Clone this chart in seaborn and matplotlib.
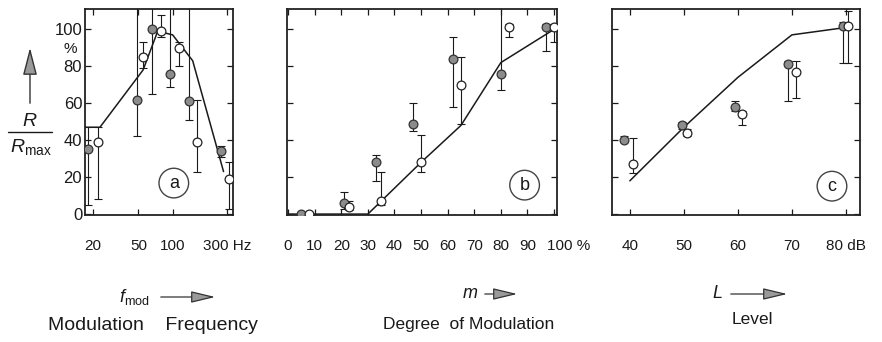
import matplotlib
matplotlib.use('Agg')
import matplotlib.pyplot as plt
import seaborn as sns
from matplotlib.patches import FancyArrowPatch
from matplotlib.lines import Line2D
from matplotlib.transforms import ScaledTranslation

# panel a: modulation frequency (Hz)
fa_line = [17, 23, 55, 74, 100, 150, 280]
ra_line = [47, 47, 78, 99, 97, 83, 23]
fa_fill = [18, 49, 66, 94, 138, 266]
ra_fill = [35, 62, 100, 76, 61, 34]
ra_fill_lo = [5, 42, 65, 69, 51, 31]
ra_fill_hi = [47, 115, 115, 115, 115, 37]
fa_open = [22, 55, 79, 113, 163, 313]
ra_open = [39, 85, 99, 90, 39, 19]
ra_open_lo = [8, 79, 96, 80, 23, 3]
ra_open_hi = [47, 93, 108, 93, 62, 28]
fa_ticks = [20, 50, 100, 300]
fa_labels = ['20', '50', '100', '300 Hz']

# panel b: degree of modulation (%)
mb_line = [0, 30, 50, 65, 80, 100]
rb_line = [0, 0, 28, 48, 82, 100]
mb_fill = [5, 21, 33, 47, 62, 80, 97]
rb_fill = [0, 6, 28, 49, 84, 76, 101]
rb_fill_lo = [0, 3, 18, 45, 58, 67, 88]
rb_fill_hi = [0, 12, 32, 60, 96, 115, 103]
mb_open = [8, 23, 35, 50, 65, 83, 100]
rb_open = [0, 4, 7, 28, 70, 101, 101]
rb_open_lo = [0, 2, 5, 23, 49, 96, 93]
rb_open_hi = [0, 7, 23, 43, 85, 103, 103]
mb_ticks = [0, 10, 20, 30, 40, 50, 60, 70, 80, 90, 100]
mb_labels = ['0', '10', '20', '30', '40', '50', '60', '70', '80', '90', '100 %']

# panel c: level (dB)
lc_line = [40, 50, 60, 70, 80]
rc_line = [18, 47, 74, 97, 101]
lc_fill = [39, 49.6, 59.5, 69.3, 79.4]
rc_fill = [40, 48, 58, 81, 102]
rc_fill_lo = [39, 46, 56, 61, 82]
rc_fill_hi = [42, 50, 61, 83, 104]
lc_open = [40.6, 50.5, 60.7, 70.8, 80.3]
rc_open = [27, 44, 54, 77, 102]
rc_open_lo = [22, 42, 48, 63, 82]
rc_open_hi = [41, 46, 56, 83, 110]
lc_ticks = [40, 50, 60, 70, 80]
lc_labels = ['40', '50', '60', '70', '80 dB']

y_ticks = [0, 20, 40, 60, 80, 100]

sns.set_style('ticks')
plt.rcParams['font.family'] = ['Liberation Sans', 'DejaVu Sans']
plt.rcParams['mathtext.fontset'] = 'custom'
plt.rcParams['mathtext.rm'] = 'Liberation Sans'
plt.rcParams['mathtext.it'] = 'Liberation Sans:italic'
ink = '#1a1a1a'

W, H = 882, 342
fig = plt.figure(figsize=(W / 100, H / 100), dpi=100)


def px(x, y):
    return (x / W, 1 - y / H)


def make_ax(left, right):
    return fig.add_axes([left / W, 1 - 215 / H, (right - left) / W, 206 / H])


def draw(ax, xl, yl, xf, yf, lof, hif, xo, yo, loo, hio):
    ax.errorbar(xf, yf, yerr=[[a - b for a, b in zip(yf, lof)], [b - a for a, b in zip(yf, hif)]],
                fmt='none', ecolor=ink, elinewidth=0.8, capsize=3, capthick=0.8, zorder=2)
    ax.errorbar(xo, yo, yerr=[[a - b for a, b in zip(yo, loo)], [b - a for a, b in zip(yo, hio)]],
                fmt='none', ecolor=ink, elinewidth=0.8, capsize=3, capthick=0.8, zorder=2)
    sns.lineplot(x=xl, y=yl, ax=ax, color=ink, linewidth=1.1, sort=False, estimator=None, zorder=2)
    sns.scatterplot(x=xf, y=yf, ax=ax, marker='o', s=40, color='#8c8c8c',
                    edgecolor='#333333', linewidth=0.9, zorder=4)
    sns.scatterplot(x=xo, y=yo, ax=ax, marker='o', s=40, color='white',
                    edgecolor='#222222', linewidth=0.9, zorder=5)
    ax.set_ylim(-0.5, 111)
    ax.set_yticks(y_ticks)
    ax.tick_params(direction='in', top=True, right=True, length=4, width=0.9,
                   colors=ink, labelsize=11)
    ax.tick_params(axis='x', pad=17)
    for s in ax.spines.values():
        s.set_linewidth(1.3)
        s.set_color('#222222')
    ax.set_xlabel('')
    ax.set_ylabel('')


ax_a = make_ax(85, 233)
ax_a.set_xscale('log')
draw(ax_a, fa_line, ra_line, fa_fill, ra_fill, ra_fill_lo, ra_fill_hi,
     fa_open, ra_open, ra_open_lo, ra_open_hi)
ax_a.set_xlim(17, 339)
ax_a.set_xticks(fa_ticks)
ax_a.set_xticklabels(fa_labels)
ax_a.minorticks_off()
ax_a.tick_params(axis='y', pad=2, labelsize=12)

ax_b = make_ax(287, 557)
draw(ax_b, mb_line, rb_line, mb_fill, rb_fill, rb_fill_lo, rb_fill_hi,
     mb_open, rb_open, rb_open_lo, rb_open_hi)
ax_b.set_xlim(-0.4, 101.1)
ax_b.set_xticks(mb_ticks)
ax_b.set_xticklabels(mb_labels)
ax_b.tick_params(axis='y', labelleft=False)
# the last label "100 %" starts just left of its tick, as in the original
last = ax_b.get_xticklabels()[-1]
last.set_ha('left')
last.set_transform(last.get_transform() + ScaledTranslation(-0.07, 0, fig.dpi_scale_trans))

ax_c = make_ax(612, 860)
draw(ax_c, lc_line, rc_line, lc_fill, rc_fill, rc_fill_lo, rc_fill_hi,
     lc_open, rc_open, rc_open_lo, rc_open_hi)
ax_c.set_xlim(36.7, 82.6)
ax_c.set_xticks(lc_ticks)
ax_c.set_xticklabels(lc_labels)
ax_c.tick_params(axis='y', labelleft=False)

# circled panel letters
for ax, letter, (x, y) in [(ax_a, 'a', (0.60, 0.155)), (ax_b, 'b', (0.88, 0.145)),
                           (ax_c, 'c', (0.887, 0.14))]:
    ax.text(x, y, letter, transform=ax.transAxes, ha='center', va='center', fontsize=13,
            color=ink, zorder=6,
            bbox=dict(boxstyle='circle,pad=0.35', fc='white', ec='#444444', lw=1.0))

# y label: arrow and R / R_max
fig.text(*px(70, 49), '%', ha='center', va='center', fontsize=11, color=ink)
fig.add_artist(FancyArrowPatch(px(30, 106), px(30, 45), transform=fig.transFigure,
                               arrowstyle='-|>,head_length=0.85,head_width=0.22',
                               mutation_scale=20, fc='#9a9a9a', ec='#333333', lw=1.0))
fig.text(*px(30, 121), '$R$', ha='center', va='center', fontsize=14, color=ink)
fig.add_artist(Line2D([8 / W, 52 / W], [1 - 132 / H] * 2, transform=fig.transFigure,
                      color=ink, lw=1.0))
fig.text(*px(31, 147), r'$R_{\mathrm{max}}$', ha='center', va='center', fontsize=14, color=ink)


def quantity(xt, xa0, xa1, y, label, name, nx, ny, size):
    fig.text(*px(xt, y), label, ha='center', va='center', fontsize=13, color=ink)
    fig.add_artist(FancyArrowPatch(px(xa0, y), px(xa1, y), transform=fig.transFigure,
                                   arrowstyle='-|>,head_length=0.75,head_width=0.18',
                                   mutation_scale=20, fc='#9a9a9a', ec='#333333', lw=0.9))
    fig.text(*px(nx, ny), name, ha='center', va='center', fontsize=size, color=ink)


quantity(134, 158, 218, 297, r'$f_{\mathrm{mod}}$', 'Modulation    Frequency', 153, 326, 14)
quantity(470, 482, 520, 294, '$m$', 'Degree  of Modulation', 469, 324, 12.5)
quantity(717, 728, 790, 294, '$L$', 'Level', 752, 320, 12.5)

fig.savefig('out.png', dpi=100)
